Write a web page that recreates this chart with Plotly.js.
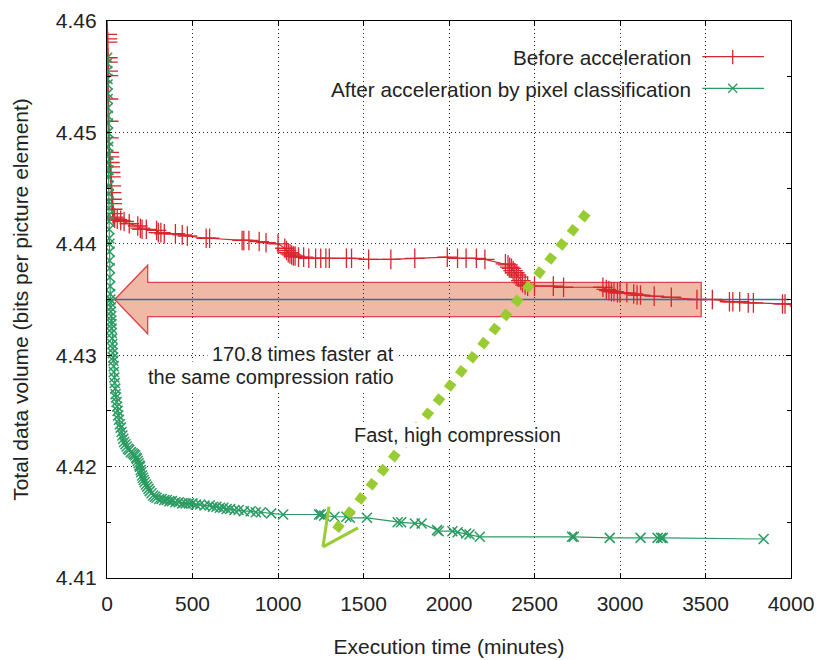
<!DOCTYPE html>
<html>
<head>
<meta charset="utf-8">
<script src="https://cdn.plot.ly/plotly-3.0.1.min.js"></script>
<style>html,body{margin:0;padding:0;background:#fff;}#chart{width:816px;height:660px;}</style>
</head>
<body>
<div id="chart"></div>
<script>
// ---------- Data ----------
const redTime = [0,2,3,4,5,6,7,8,9,10,11,13,15,17,19,21,23,25,27,29,31,33,35,38,45,60,80,100,130,180,195,205,230,290,300,315,335,400,440,470,580,600,790,800,830,890,930,1000,1040,1050,1060,1070,1080,1090,1100,1120,1150,1180,1220,1250,1280,1300,1400,1430,1530,1660,1800,1990,2050,2100,2160,2210,2330,2345,2355,2365,2375,2385,2395,2405,2420,2430,2445,2460,2500,2610,2670,2900,2920,2935,2950,2965,2985,3000,3040,3080,3100,3120,3200,3300,3450,3540,3640,3660,3700,3750,3780,3950,3965,4050];
const redVolume = [4.4615,4.4588,4.4584,4.4581,4.4567,4.4563,4.4555,4.4551,4.4530,4.4510,4.4495,4.4482,4.4478,4.4473,4.4469,4.4464,4.4460,4.4452,4.4446,4.4440,4.4436,4.4431,4.4427,4.4424,4.4423,4.4422,4.4421,4.4420,4.4418,4.4416,4.4414,4.4413,4.4413,4.4412,4.4410,4.4410,4.4409,4.4409,4.4408,4.4407,4.4405,4.4405,4.4403,4.4403,4.4403,4.4402,4.4401,4.4400,4.4396,4.4394,4.4392,4.4391,4.4390,4.4389,4.4389,4.4388,4.4388,4.4387,4.4387,4.4387,4.4387,4.4387,4.4387,4.4387,4.4386,4.4386,4.4387,4.4388,4.4387,4.4387,4.4387,4.4386,4.4382,4.4381,4.4379,4.4378,4.4376,4.4374,4.4372,4.4370,4.4367,4.4365,4.4363,4.4362,4.4362,4.4362,4.4361,4.4361,4.4359,4.4358,4.4357,4.4357,4.4356,4.4356,4.4356,4.4355,4.4354,4.4354,4.4353,4.4352,4.4350,4.4350,4.4348,4.4348,4.4348,4.4347,4.4347,4.4346,4.4346,4.4344];

const greenTime = [1,2,2,3,3,4,4,5,5,6,6,7,7,8,8,9,9,10,10,11,11,12,12,13,13,14,15,15,16,17,18,19,20,21,22,23,24,25,26,27,28,30,31,33,34,36,37,39,40,43,45,48,50,53,56,59,62,66,70,75,80,85,90,95,100,108,115,122,130,140,150,158,165,170,175,180,185,190,193,197,200,205,210,215,220,228,235,243,250,260,270,280,290,305,320,335,350,365,380,400,420,440,460,480,500,520,545,570,600,620,640,660,680,700,720,745,770,800,840,870,900,960,1030,1240,1250,1270,1330,1400,1420,1520,1700,1720,1800,1840,1930,1940,2020,2050,2100,2120,2180,2720,2730,2940,3120,3220,3240,3250,3840];
const greenVolume = [4.4567,4.4562,4.4555,4.4548,4.4543,4.4535,4.4530,4.4522,4.4515,4.4508,4.4500,4.4492,4.4487,4.4480,4.4473,4.4466,4.4460,4.4452,4.4445,4.4438,4.4432,4.4426,4.4420,4.4413,4.4405,4.4400,4.4393,4.4385,4.4378,4.4370,4.4362,4.4355,4.4350,4.4347,4.4343,4.4339,4.4335,4.4331,4.4328,4.4324,4.4320,4.4315,4.4310,4.4306,4.4302,4.4298,4.4295,4.4290,4.4285,4.4280,4.4275,4.4270,4.4265,4.4262,4.4258,4.4254,4.4250,4.4246,4.4242,4.4238,4.4235,4.4231,4.4228,4.4225,4.4222,4.4220,4.4218,4.4216,4.4215,4.4213,4.4212,4.4211,4.4210,4.4208,4.4207,4.4205,4.4203,4.4201,4.4200,4.4197,4.4195,4.4192,4.4190,4.4188,4.4186,4.4184,4.4182,4.4180,4.4178,4.4176,4.4174,4.4173,4.4172,4.4171,4.4171,4.4170,4.4170,4.4169,4.4169,4.4168,4.4168,4.4167,4.4167,4.4167,4.4167,4.4166,4.4166,4.4165,4.4165,4.4164,4.4164,4.4163,4.4163,4.4162,4.4162,4.4161,4.4161,4.4160,4.4160,4.4159,4.4159,4.4158,4.4157,4.4157,4.4157,4.4156,4.4155,4.4155,4.4154,4.4154,4.4150,4.4150,4.4149,4.4149,4.4143,4.4142,4.4142,4.4141,4.4140,4.4139,4.4137,4.4137,4.4137,4.4136,4.4136,4.4136,4.4136,4.4136,4.4135];

const seriesNames = ["Before acceleration", "After acceleration by pixel classification"];
const xTickValues = [0,500,1000,1500,2000,2500,3000,3500,4000];
const yTickValues = [4.41,4.42,4.43,4.44,4.45,4.46];

// annotation anchors (data units)
const sameRatio = 4.435;           // compression ratio reached by both
const bigArrow = {tip: 45, head: 238, end: 3475, shaft: 0.00154, headHalf: 0.00308};
const fastArrow = {x0: 2807, y0: 4.4428, x1: 1322, y1: 4.4140, tipX: 1263, tipY: 4.4128, arm1X: 1298, arm1Y: 4.4164, arm2X: 1468, arm2Y: 4.4145};

const RED = '#d6262e', GREEN = '#2a9b62', LIME = '#99cc33';
const FONT = '"Liberation Sans", Arial, Helvetica, sans-serif';

const traces = [
  {x: redTime, y: redVolume, name: seriesNames[0], type: 'scatter', mode: 'lines+markers',
   line: {color: RED, width: 1.2},
   marker: {symbol: 'cross-thin', size: 14, line: {color: RED, width: 1.3}, color: RED}},
  {x: greenTime, y: greenVolume, name: seriesNames[1], type: 'scatter', mode: 'lines+markers',
   line: {color: GREEN, width: 1.2},
   marker: {symbol: 'x-thin', size: 10, line: {color: GREEN, width: 1.5}, color: GREEN}}
];

const Y = sameRatio, A = bigArrow;
const arrowPath = `M ${A.tip},${Y} L ${A.head},${Y + A.headHalf} L ${A.head},${Y + A.shaft} L ${A.end},${Y + A.shaft} L ${A.end},${Y - A.shaft} L ${A.head},${Y - A.shaft} L ${A.head},${Y - A.headHalf} Z`;

const shapes = [
  {type: 'path', path: arrowPath, xref: 'x', yref: 'y', layer: 'below',
   fillcolor: '#f0b9a5', line: {color: '#e0424a', width: 1.3}},
  {type: 'line', xref: 'x', yref: 'y', x0: 0, x1: 3985, y0: Y, y1: Y, layer: 'below',
   line: {color: '#2a6fae', width: 1.3}},
  // legend background
  {type: 'rect', xref: 'paper', yref: 'paper', x0: 0.315, x1: 1, y0: 0.826, y1: 1, layer: 'between',
   fillcolor: '#ffffff', line: {width: 0}},
  // green dotted arrow
  {type: 'line', xref: 'x', yref: 'y', x0: fastArrow.x0, y0: fastArrow.y0, x1: fastArrow.x1, y1: fastArrow.y1,
   layer: 'above', line: {color: LIME, width: 9, dash: 'dot'}},
  {type: 'line', xref: 'x', yref: 'y', x0: fastArrow.tipX, y0: fastArrow.tipY, x1: fastArrow.arm1X, y1: fastArrow.arm1Y,
   layer: 'above', line: {color: LIME, width: 3}},
  {type: 'line', xref: 'x', yref: 'y', x0: fastArrow.tipX, y0: fastArrow.tipY, x1: fastArrow.arm2X, y1: fastArrow.arm2Y,
   layer: 'above', line: {color: LIME, width: 3}},
  // legend samples
  {type: 'line', xref: 'paper', yref: 'paper', x0: 0.8702, x1: 0.9604, y0: 0.9359, y1: 0.9359, layer: 'above',
   line: {color: RED, width: 1.2}},
  {type: 'line', xref: 'paper', yref: 'paper', x0: 0.9148, x1: 0.9148, y0: 0.9222, y1: 0.9479, layer: 'above',
   line: {color: RED, width: 1.3}},
  {type: 'line', xref: 'paper', yref: 'paper', x0: 0.8702, x1: 0.9604, y0: 0.8791, y1: 0.8791, layer: 'above',
   line: {color: GREEN, width: 1.2}},
  {type: 'line', xref: 'paper', yref: 'paper', x0: 0.9082, x1: 0.9214, y0: 0.8711, y1: 0.8873, layer: 'above',
   line: {color: GREEN, width: 1.4}},
  {type: 'line', xref: 'paper', yref: 'paper', x0: 0.9082, x1: 0.9214, y0: 0.8873, y1: 0.8711, layer: 'above',
   line: {color: GREEN, width: 1.4}}
];

const txt = {family: FONT, size: 21, color: '#222'};
const noteTxt = {family: FONT, size: 20, color: '#222'};
const legTxt = {family: FONT, size: 20.7, color: '#222'};
const annotations = [
  {xref: 'x', yref: 'y', x: 1708, y: 4.43015, text: '170.8 times faster at', showarrow: false,
   xanchor: 'right', yanchor: 'middle', align: 'right', font: noteTxt, bgcolor: '#ffffff', borderpad: 4},
  {xref: 'x', yref: 'y', x: 1708, y: 4.42804, text: 'the same compression ratio', showarrow: false,
   xanchor: 'right', yanchor: 'middle', align: 'right', font: noteTxt, bgcolor: '#ffffff', borderpad: 4},
  {xref: 'x', yref: 'y', x: 2052, y: 4.42284, text: 'Fast, high compression', showarrow: false,
   xanchor: 'center', yanchor: 'middle', font: noteTxt, bgcolor: '#ffffff', borderpad: 1},
  {xref: 'paper', yref: 'paper', x: 0.857, y: 0.9341, text: seriesNames[0], showarrow: false,
   xanchor: 'right', yanchor: 'middle', font: legTxt},
  {xref: 'paper', yref: 'paper', x: 0.857, y: 0.8774, text: seriesNames[1], showarrow: false,
   xanchor: 'right', yanchor: 'middle', font: legTxt}
];

const axisCommon = {
  showline: true, linecolor: '#000', linewidth: 1.2, mirror: 'ticks',
  ticks: 'inside', ticklen: 5, tickwidth: 1, tickcolor: '#000',
  showgrid: true, gridcolor: '#222', gridwidth: 1, griddash: '1px,3px',
  zeroline: false, tickfont: txt
};

const layout = {
  width: 816, height: 660,
  margin: {l: 107, r: 25, t: 21, b: 82},
  paper_bgcolor: '#fff', plot_bgcolor: 'rgba(0,0,0,0)',
  showlegend: false,
  font: {family: FONT, color: '#222'},
  xaxis: Object.assign({}, axisCommon, {
    range: [0, 4000], tickvals: xTickValues, ticktext: xTickValues.map(String),
    ticklabelstandoff: 7,
    title: {text: 'Execution time (minutes)', font: txt, standoff: 24}
  }),
  yaxis: Object.assign({}, axisCommon, {
    range: [4.41, 4.46], tickvals: yTickValues, ticktext: yTickValues.map(v => v.toFixed(2)),
    ticklabelstandoff: 5,
    minor: {dtick: 0.005, ticks: 'inside', ticklen: 4, tickcolor: '#000', showgrid: false},
    title: {text: 'Total data volume (bits per picture element)', font: txt, standoff: 21}
  }),
  shapes: shapes,
  annotations: annotations
};

Plotly.newPlot('chart', traces, layout, {staticPlot: true, displayModeBar: false});
</script>
</body>
</html>
